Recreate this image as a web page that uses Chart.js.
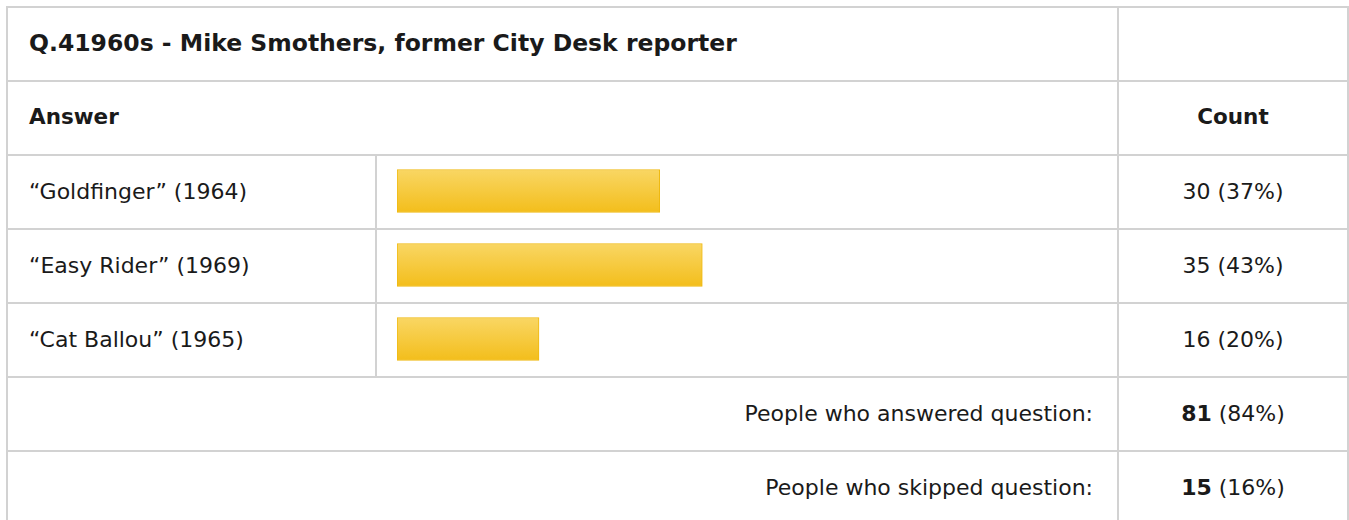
<!DOCTYPE html>
<html>
<head>
<meta charset="utf-8">
<script src="https://cdn.jsdelivr.net/npm/chart.js@4/dist/chart.umd.min.js"></script>
<style>
  html, body { margin: 0; padding: 0; background: #fff; }
  body { width: 1349px; height: 520px; overflow: hidden; position: relative;
         font-family: "DejaVu Sans", Verdana, sans-serif; color: #1a1a1a; }
  .hl { position: absolute; height: 2px; background: #d2d2d2; }
  .vl { position: absolute; width: 2px; background: #d2d2d2; }
  .t { position: absolute; white-space: nowrap; font-size: 22px; line-height: 26px; }
  .b { font-weight: bold; font-size: 21.5px; }
  .title { font-weight: bold; font-size: 23.5px; }
  .c { text-align: center; }
  .r { text-align: right; }
  .t b { font-weight: bold; }
  #wrap { position: absolute; left: 377px; top: 154px; width: 740px; height: 222px; }
</style>
</head>
<body>
<div id="grid"></div>
<div id="texts"></div>
<div id="wrap"><canvas id="chart"></canvas></div>
<script>
const title = "Q.41960s - Mike Smothers, former City Desk reporter";
const answers = ["\u201cGoldfinger\u201d (1964)", "\u201cEasy Rider\u201d (1969)", "\u201cCat Ballou\u201d (1965)"];
const counts = [30, 35, 16];
const percents = [37, 43, 20];
const summaryLabels = ["People who answered question:", "People who skipped question:"];
const summaryCounts = [81, 15];
const summaryPercents = [84, 16];

// table grid
const grid = document.getElementById('grid');
const rowLines = [6, 80, 154, 228, 302, 376, 450];
function addLine(cls, l, t, w, h) {
  const d = document.createElement('div');
  d.className = cls; d.style.left = l + 'px'; d.style.top = t + 'px';
  if (w != null) d.style.width = w + 'px';
  if (h != null) d.style.height = h + 'px';
  grid.appendChild(d);
}
rowLines.forEach(y => addLine('hl', 6, y, 1343, null));
addLine('vl', 6, 6, null, 520);
addLine('vl', 1347, 6, null, 520);
addLine('vl', 1117, 6, null, 520);
addLine('vl', 375, 154, null, 224);

const texts = document.getElementById('texts');
function addText(txt, cls, l, cy, w, html) {
  const d = document.createElement('div');
  d.className = 't ' + cls;
  d.style.left = l + 'px'; d.style.top = (cy - 13) + 'px';
  if (w != null) d.style.width = w + 'px';
  if (html) d.innerHTML = txt; else d.textContent = txt;
  texts.appendChild(d);
}
addText(title, 'title', 29, 43);
addText('Answer', 'b', 29, 117);
addText('Count', 'b c', 1119, 117, 228);
answers.forEach((a, i) => {
  const cy = 192 + i * 74;
  addText(a, '', 29, cy);
  addText(counts[i] + ' (' + percents[i] + '%)', 'c', 1119, cy, 228);
});
summaryLabels.forEach((s, i) => {
  const cy = 414 + i * 74;
  addText(s, 'r', 400, cy, 693);
  addText('<b>' + summaryCounts[i] + '</b> (' + summaryPercents[i] + '%)', 'c', 1119, cy, 228, true);
});

// bar chart
new Chart(document.getElementById('chart'), {
  type: 'bar',
  data: {
    labels: answers,
    datasets: [{
      data: percents,
      backgroundColor: (c) => {
        const ch = c.chart;
        if (!ch.scales || !ch.scales.y || c.dataIndex == null) return '#f6ca3e';
        const y = ch.scales.y.getPixelForValue(c.dataIndex);
        if (!isFinite(y)) return '#f6ca3e';
        const g = ch.ctx.createLinearGradient(0, y - 21, 0, y + 21);
        g.addColorStop(0, '#f9d663');
        g.addColorStop(1, '#f3be1c');
        return g;
      },
      borderColor: '#efb90f',
      borderWidth: 1,
      borderSkipped: false,
      barThickness: 43
    }]
  },
  options: {
    indexAxis: 'y',
    responsive: true,
    maintainAspectRatio: false,
    animation: false,
    layout: { padding: { left: 20, right: 10, top: 0, bottom: 0 } },
    plugins: { legend: { display: false }, tooltip: { enabled: false } },
    scales: {
      x: { min: 0, max: 100, display: false },
      y: { display: false, offset: true }
    }
  }
});
</script>
</body>
</html>
